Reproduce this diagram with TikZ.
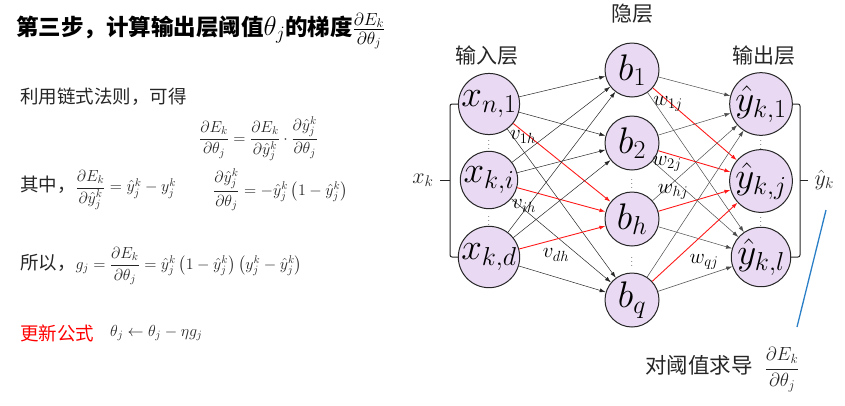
\RequirePackage{fix-cm}
\documentclass[tikz,border=0pt]{standalone}
\usepackage{amsmath,amssymb}
\usepackage{fontspec}
\newfontfamily\cjk{Noto Sans CJK SC}
\usepackage{tikz}
\usetikzlibrary{arrows.meta,calc,positioning}
\definecolor{nodefill}{HTML}{E9D9F3}
\definecolor{linkred}{HTML}{FF1A1A}
\definecolor{noteblue}{HTML}{2A7FC6}
\newcommand{\yh}{\hat{y}}
\newcommand{\eqsz}{\fontsize{16}{19}\selectfont}

\begin{document}
\begin{tikzpicture}[x=1pt,y=-1pt,
  neuron/.style={circle,draw=black!85,line width=1pt,fill=nodefill,minimum size=54pt,inner sep=0pt,font=\fontsize{37}{40}\selectfont},
  link/.style={-{Latex[length=6pt,width=4pt]},black!85,line width=0.5pt},
  hot/.style={link,linkred,line width=0.9pt},
  wlab/.style={font=\fontsize{21}{23}\selectfont,inner sep=0pt},
  txt/.style={anchor=west,inner sep=0pt,text=black!85,font=\cjk\fontsize{18.5}{22}\selectfont},
  layer/.style={text=black!85,font=\cjk\fontsize{21}{24}\selectfont}]
\useasboundingbox (0,0) rectangle (845,405);

% left column: text and formulas
\node[anchor=west,inner sep=0pt,font=\cjk\bfseries\fontsize{22.5}{26}\selectfont] (title) at (16,31)
  {第三步，计算输出层阈值{\fontsize{27}{28}\selectfont$\theta_j$}的梯度{\fontsize{25}{26}\selectfont$\frac{\partial E_k}{\partial\theta_j}$}};
\node[txt] (chain) at (20,97) {利用链式法则，可得};
\node[txt] (eqa) at (199,139) {\eqsz$\dfrac{\partial E_k}{\partial\theta_j}=\dfrac{\partial E_k}{\partial\yh_j^k}\cdot\dfrac{\partial\yh_j^k}{\partial\theta_j}$};
\node[txt] (where) at (20,190) {其中，{\eqsz$\dfrac{\partial E_k}{\partial\yh_j^k}=\yh_j^k-y_j^k$}};
\node[txt] (eqc) at (213,190) {\eqsz$\dfrac{\partial\yh_j^k}{\partial\theta_j}=-\yh_j^k\left(1-\yh_j^k\right)$};
\node[txt] (hence) at (20,266) {所以，{\eqsz$g_j=\dfrac{\partial E_k}{\partial\theta_j}=\yh_j^k\left(1-\yh_j^k\right)\left(y_j^k-\yh_j^k\right)$}};
\node[txt,text=red] (upd) at (20,333) {更新公式};
\node[txt] (rule) at (110,333) {\eqsz$\theta_j\leftarrow\theta_j-\eta g_j$};

% network
\foreach \y/\lab/\nm in {104/{x_{n,1}}/in1,180/{x_{k,i}}/in2,257/{x_{k,d}}/in3}
  \node[neuron] (\nm) at (489,\y) {$\lab$};
\foreach \y/\lab/\nm in {70/{b_1}/hid1,143/{b_2}/hid2,219/{b_h}/hid3,300/{b_q}/hid4}
  \node[neuron] (\nm) at (632,\y) {$\lab$};
\foreach \y/\lab/\nm in {104/{\yh_{k,1}}/out1,181/{\yh_{k,j}}/out2,257/{\yh_{k,l}}/out3}
  \node[neuron] (\nm) at (761,\y) {$\lab$};

\node[layer] (inlab) at (487,56) {输入层};
\node[layer] (hidlab) at (632,14) {隐层};
\node[layer] (outlab) at (764,56) {输出层};

\foreach \i in {1,2,3}{
  \foreach \h in {1,2,4} \draw[link] (in\i) -- (hid\h);
  \draw[hot] (in\i) -- (hid3);}
\foreach \h in {1,...,4}{
  \foreach \o in {1,3} \draw[link,black!70] (hid\h) -- (out\o);
  \draw[hot] (hid\h) -- (out2);}

\node[font=\small] (d1) at ($(in1)!0.5!(in2)$) {$\vdots$};
\node[font=\small] (d2) at ($(in2)!0.5!(in3)$) {$\vdots$};
\node[font=\small] (d3) at ($(hid2)!0.5!(hid3)$) {$\vdots$};
\node[font=\small] (d4) at ($(hid3)!0.5!(hid4)$) {$\vdots$};
\node[font=\small] (d5) at ($(out1)!0.5!(out2)$) {$\vdots$};
\node[font=\small] (d6) at ($(out2)!0.5!(out3)$) {$\vdots$};

\node[wlab] (v1) at (523,137) {$v_{1h}$};
\node[wlab] (v2) at (524,206) {$v_{ih}$};
\node[wlab] (v3) at (556,255) {$v_{dh}$};
\node[wlab] (w1) at (668,104) {$w_{1j}$};
\node[wlab] (w2) at (667,164) {$w_{2j}$};
\node[wlab] (w3) at (673,192) {$w_{hj}$};
\node[wlab] (w4) at (704,262) {$w_{qj}$};

% braces
\coordinate (lb) at (450,180);
\coordinate (rb) at (800,180);
\draw[line width=1pt,black!85,rounded corners=2pt] (in1.west) -| (lb) |- (in3.west);
\draw[line width=1pt,black!85] (lb) -- ++(-10,0) node[left=6pt,inner sep=0pt,font=\fontsize{22}{24}\selectfont] (xk) {$x_k$};
\draw[line width=1pt,black!85,rounded corners=2pt] (out1.east) -| (rb) |- (out3.east);
\draw[line width=1pt,black!85] (rb) -- ++(8,0) node[right=6pt,inner sep=0pt,font=\fontsize{22}{24}\selectfont] (yk) {$\yh_k$};

% note
\node[anchor=west,inner sep=0pt,text=black!85,font=\cjk\fontsize{21.5}{24}\selectfont] (note) at (645,370)
  {对阈值求导\hspace{12pt}\fontsize{19}{22}\selectfont$\dfrac{\partial E_k}{\partial\theta_j}$};
\coordinate (foot) at (797,327);
\coordinate (tip) at (826,210);
\draw[noteblue,line width=1.3pt] (foot) -- (tip);
\end{tikzpicture}
\end{document}
